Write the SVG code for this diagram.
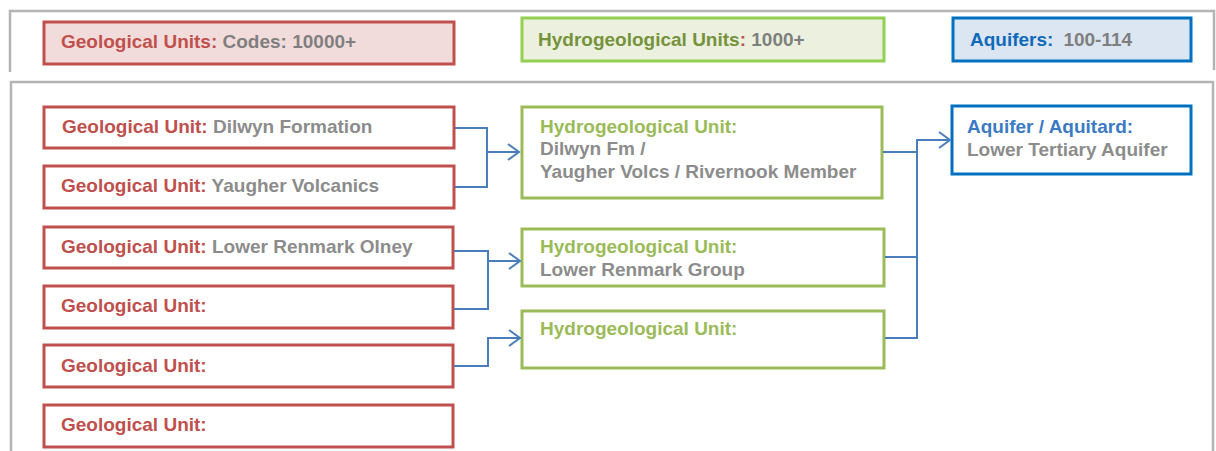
<svg xmlns="http://www.w3.org/2000/svg" width="1216" height="451" viewBox="0 0 1216 451">
<style>
text{font-family:"Liberation Sans",Arial,sans-serif;font-weight:bold;font-size:19px}
.frame{fill:none;stroke:#b4b4b4;stroke-width:2.5}
.geo{fill:#fff;stroke:#c0504d;stroke-width:3}
.hyd{fill:#fff;stroke:#9bbb59;stroke-width:3}
.aq{fill:#fff;stroke:#0070c0;stroke-width:3}
.r{fill:#c0504d}
.g{fill:#8c8c8c}
.gd{fill:#7f7f7f}
.gr{fill:#9bbb59}
.gdk{fill:#76923c}
.b{fill:#3c7ac4}
.bd{fill:#0e6ab8}
.c{fill:none;stroke:#4a7ebb;stroke-width:2}
</style>
<defs>
<marker id="arr" markerUnits="userSpaceOnUse" markerWidth="16" markerHeight="20" refX="12" refY="9" orient="auto" viewBox="0 0 16 20">
<path d="M1,1 L12,9 L1,17" fill="none" stroke="#4a7ebb" stroke-width="2"/>
</marker>
</defs>
<g id="frames">
<path class="frame" d="M10,72 V11 H1214 V70"/>
<path class="frame" d="M11,451 V82 H1213 V451"/>
</g>
<g id="legend-geo">
<rect x="44" y="22" width="410" height="42" fill="#f2dcdb" stroke="#c0504d" stroke-width="3"/>
<text x="61" y="48"><tspan class="r">Geological Units: </tspan><tspan class="gd">Codes: 10000+</tspan></text>
</g>
<g id="legend-hyd">
<rect x="522" y="18" width="362" height="43" fill="#ebf1de" stroke="#92d050" stroke-width="3"/>
<text x="538" y="46"><tspan class="gdk">Hydrogeological Units</tspan><tspan class="r">:</tspan><tspan class="gd"> 1000+</tspan></text>
</g>
<g id="legend-aq">
<rect x="953" y="18" width="238" height="43" fill="#dce6f2" stroke="#0070c0" stroke-width="3"/>
<text x="970" y="46"><tspan class="bd">Aquifers:</tspan><tspan class="gd" dx="10">100-114</tspan></text>
</g>
<g id="geo1">
<rect class="geo" x="44" y="107" width="410" height="41"/>
<text x="62" y="133"><tspan class="r">Geological Unit: </tspan><tspan class="g">Dilwyn Formation</tspan></text>
</g>
<g id="geo2">
<rect class="geo" x="44" y="166" width="410" height="42"/>
<text x="61" y="192"><tspan class="r">Geological Unit: </tspan><tspan class="g">Yaugher Volcanics</tspan></text>
</g>
<g id="geo3">
<rect class="geo" x="44" y="227" width="409" height="41"/>
<text x="61" y="253"><tspan class="r">Geological Unit: </tspan><tspan class="g">Lower Renmark Olney</tspan></text>
</g>
<g id="geo4">
<rect class="geo" x="44" y="286" width="409" height="42"/>
<text x="61" y="312" class="r">Geological Unit:</text>
</g>
<g id="geo5">
<rect class="geo" x="44" y="345" width="409" height="42"/>
<text x="61" y="372" class="r">Geological Unit:</text>
</g>
<g id="geo6">
<rect class="geo" x="44" y="405" width="409" height="42"/>
<text x="61" y="431" class="r">Geological Unit:</text>
</g>
<g id="hyd1">
<rect class="hyd" x="522" y="107" width="360" height="91"/>
<text x="540" y="133" class="gr">Hydrogeological Unit:</text>
<text x="540" y="155" class="g">Dilwyn Fm /</text>
<text x="540" y="178" class="g">Yaugher Volcs / Rivernook Member</text>
</g>
<g id="hyd2">
<rect class="hyd" x="522" y="229" width="362" height="57"/>
<text x="540" y="253" class="gr">Hydrogeological Unit:</text>
<text x="540" y="276" class="g">Lower Renmark Group</text>
</g>
<g id="hyd3">
<rect class="hyd" x="522" y="311" width="362" height="57"/>
<text x="540" y="335" class="gr">Hydrogeological Unit:</text>
</g>
<g id="aq1">
<rect class="aq" x="952" y="106" width="239" height="68"/>
<text x="967" y="133" class="b">Aquifer / Aquitard:</text>
<text x="967" y="156" class="g">Lower Tertiary Aquifer</text>
</g>
<g id="connectors">
<path class="c" d="M455,128 H487 V187 H455"/>
<path class="c" d="M487,152 H519" marker-end="url(#arr)"/>
<path class="c" d="M454,251 H488 V309 H454"/>
<path class="c" d="M488,261 H520" marker-end="url(#arr)"/>
<path class="c" d="M454,366 H488 V338 H520" marker-end="url(#arr)"/>
<path class="c" d="M883,152 H917"/>
<path class="c" d="M885,257 H917"/>
<path class="c" d="M885,338 H917 V140 H950" marker-end="url(#arr)"/>
</g>
</svg>
